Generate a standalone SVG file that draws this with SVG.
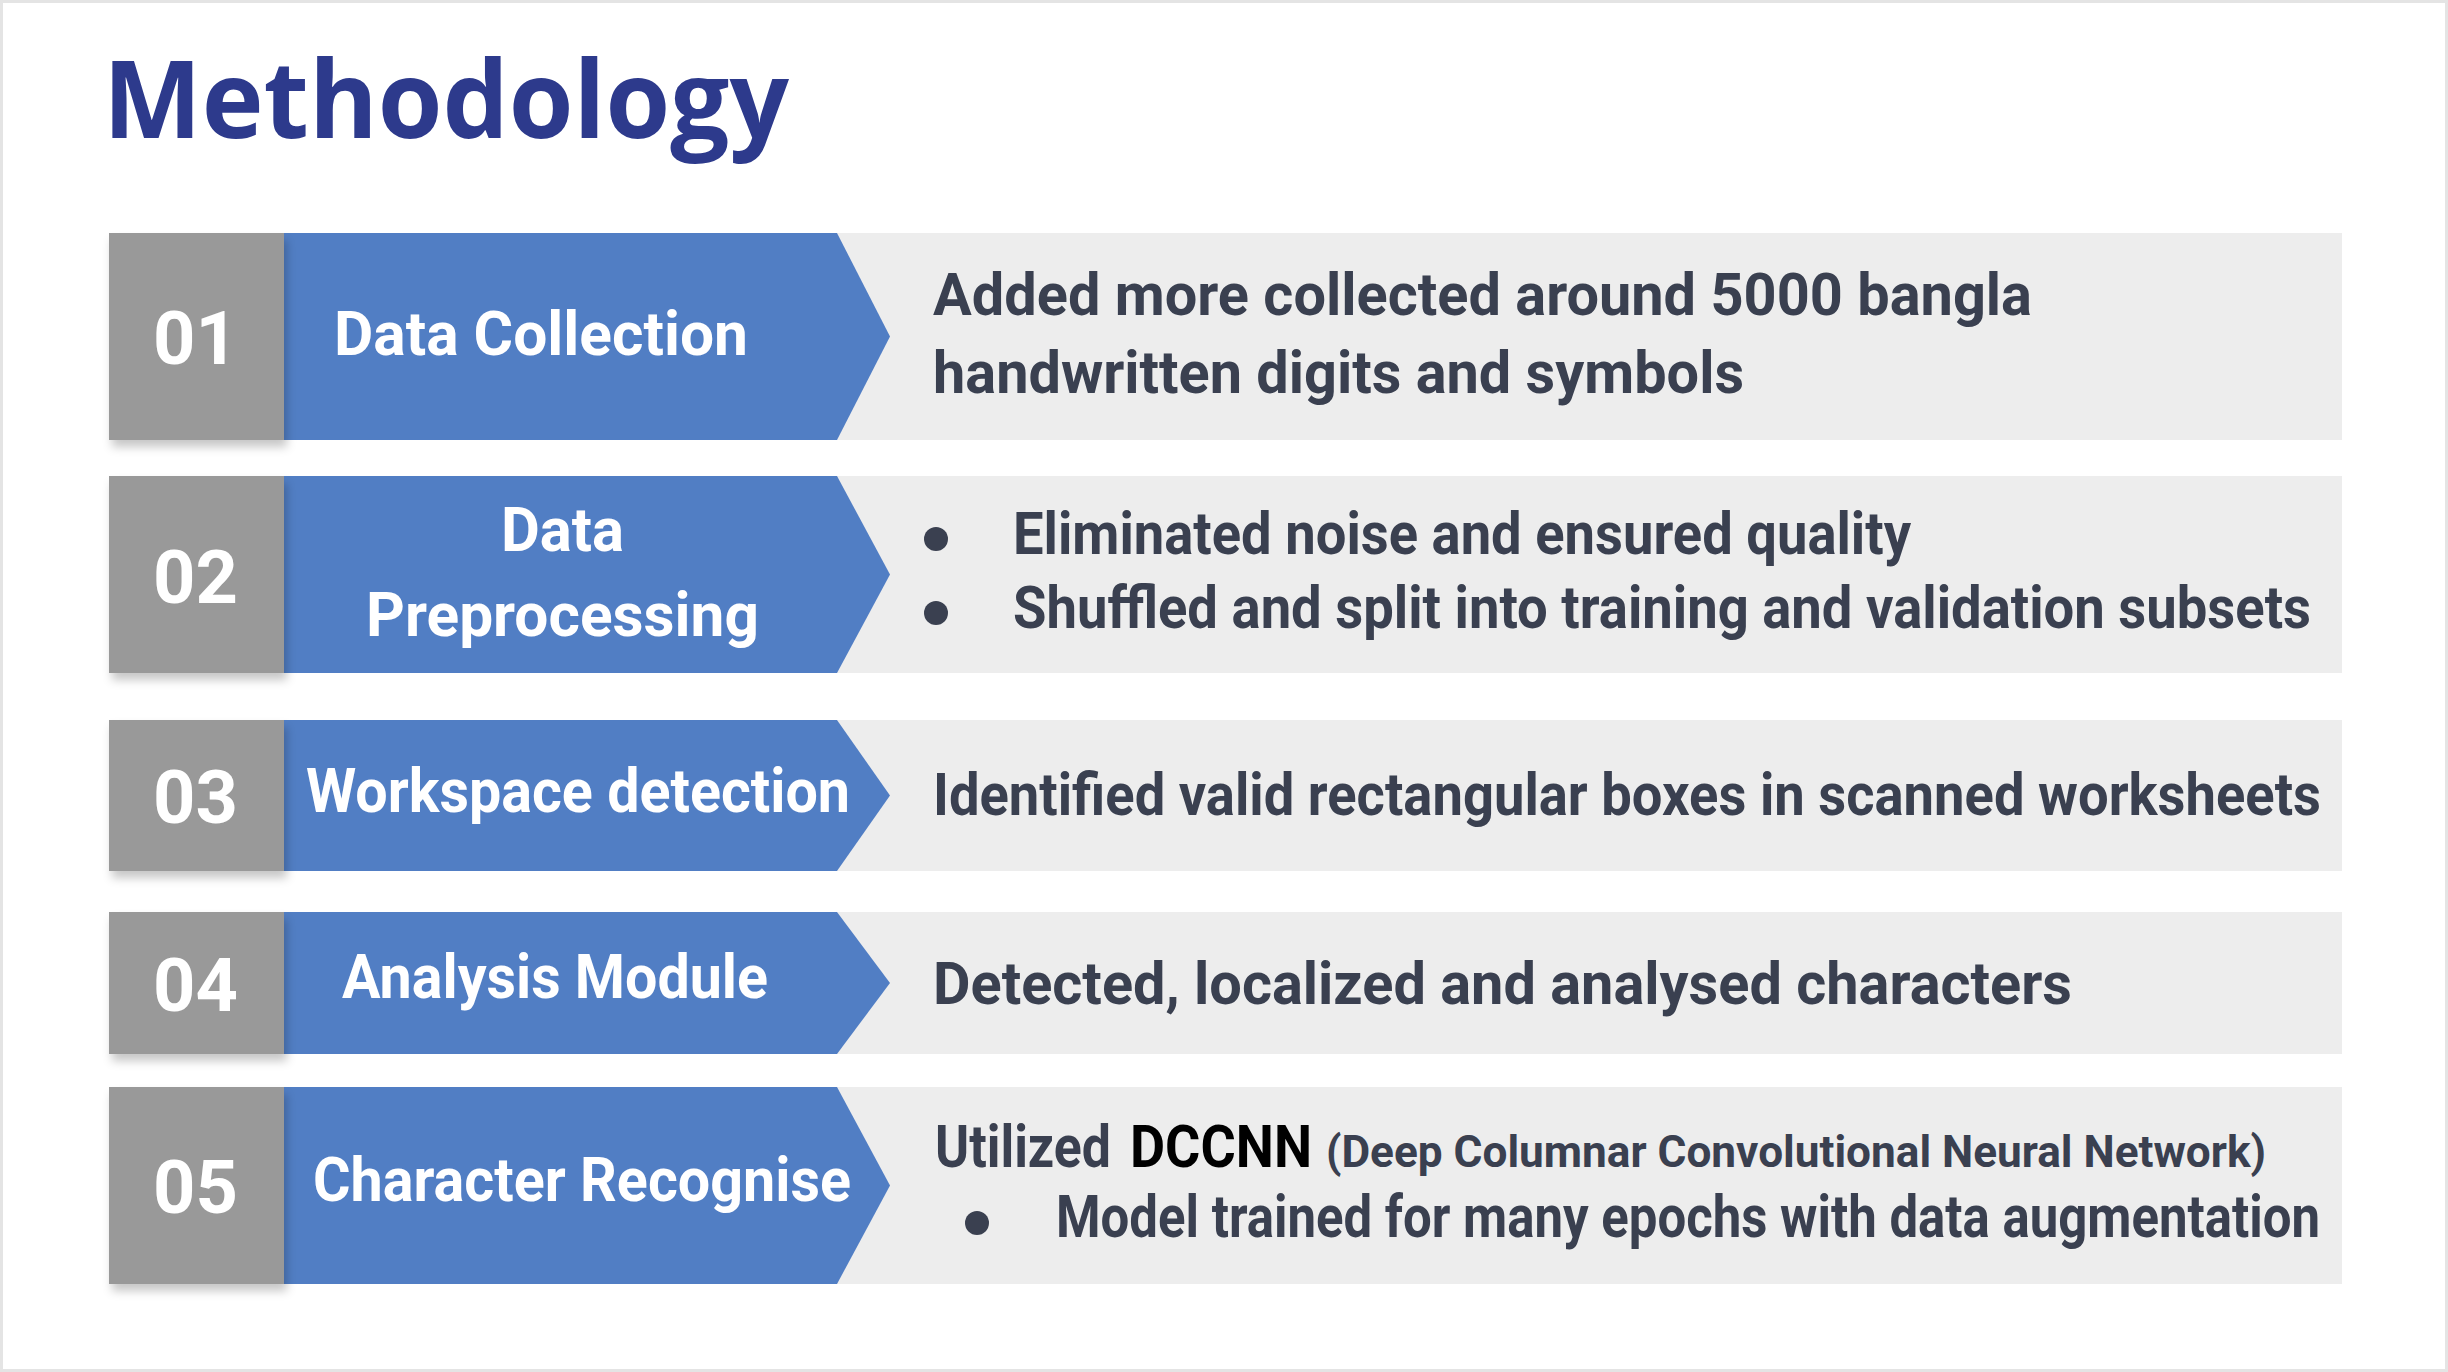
<svg xmlns="http://www.w3.org/2000/svg" width="2448" height="1372" viewBox="0 0 2448 1372">
  <style>
    .frame { fill: #ffffff; stroke: #e4e4e4; stroke-width: 3; }
    .title { font-family: "Open Sans", "Liberation Sans", sans-serif; font-weight: 700; font-size: 108px; fill: #2d3a8c; }
    .band { fill: #ededed; }
    .num-box { fill: #999999; filter: url(#soft); }
    .step { fill: #517ec4; }
    .num { font-family: Roboto, "Liberation Sans", sans-serif; font-weight: 700; font-size: 74px; fill: #ffffff; }
    .label { font-family: Roboto, "Liberation Sans", sans-serif; font-weight: 700; font-size: 61px; fill: #ffffff; }
    .desc { font-family: Roboto, "Liberation Sans", sans-serif; font-weight: 700; font-size: 59px; fill: #3a4050; }
    .small { font-size: 45px; }
    .strong { fill: #000000; }
    .dot { fill: #3a4050; }
  </style>
  <defs>
    <filter id="soft" x="-20%" y="-20%" width="140%" height="140%">
      <feDropShadow dx="3" dy="7" stdDeviation="5" flood-color="#000000" flood-opacity="0.22"/>
    </filter>
  </defs>

  <rect class="frame" x="1.5" y="1.5" width="2445" height="1369"/>

  <text class="title" x="103" y="138" textLength="686" lengthAdjust="spacingAndGlyphs">Methodology</text>

  <!-- Step 01 -->
  <g id="step-01">
    <rect class="band" x="800" y="233" width="1542" height="207"/>
    <polygon class="step" points="284,233 837,233 890,336.5 837,440 284,440"/>
    <rect class="num-box" x="109" y="233" width="175" height="207"/>
    <text class="num" x="153" y="364">01</text>
    <text class="label" x="334" y="355" textLength="414" lengthAdjust="spacingAndGlyphs">Data Collection</text>
    <text class="desc" x="933" y="315" textLength="1099" lengthAdjust="spacingAndGlyphs">Added more collected around 5000 bangla</text>
    <text class="desc" x="933" y="393" textLength="811" lengthAdjust="spacingAndGlyphs">handwritten digits and symbols</text>
  </g>

  <!-- Step 02 -->
  <g id="step-02">
    <rect class="band" x="800" y="476" width="1542" height="197"/>
    <polygon class="step" points="284,476 837,476 890,574.5 837,673 284,673"/>
    <rect class="num-box" x="109" y="476" width="175" height="197"/>
    <text class="num" x="153" y="603">02</text>
    <text class="label" x="501" y="551" textLength="123" lengthAdjust="spacingAndGlyphs">Data</text>
    <text class="label" x="366" y="636" textLength="393" lengthAdjust="spacingAndGlyphs">Preprocessing</text>
    <circle class="dot" cx="936" cy="539" r="12"/>
    <circle class="dot" cx="936" cy="613" r="12"/>
    <text class="desc" x="1013" y="554" textLength="898" lengthAdjust="spacingAndGlyphs">Eliminated noise and ensured quality</text>
    <text class="desc" x="1013" y="628" textLength="1298" lengthAdjust="spacingAndGlyphs">Shuffled and split into training and validation subsets</text>
  </g>

  <!-- Step 03 -->
  <g id="step-03">
    <rect class="band" x="800" y="720" width="1542" height="151"/>
    <polygon class="step" points="284,720 837,720 890,795.5 837,871 284,871"/>
    <rect class="num-box" x="109" y="720" width="175" height="151"/>
    <text class="num" x="153" y="823">03</text>
    <text class="label" x="306" y="812" textLength="544" lengthAdjust="spacingAndGlyphs">Workspace detection</text>
    <text class="desc" x="933" y="815" textLength="1388" lengthAdjust="spacingAndGlyphs">Identified valid rectangular boxes in scanned worksheets</text>
  </g>

  <!-- Step 04 -->
  <g id="step-04">
    <rect class="band" x="800" y="912" width="1542" height="142"/>
    <polygon class="step" points="284,912 837,912 890,983 837,1054 284,1054"/>
    <rect class="num-box" x="109" y="912" width="175" height="142"/>
    <text class="num" x="153" y="1011">04</text>
    <text class="label" x="342" y="998" textLength="426" lengthAdjust="spacingAndGlyphs">Analysis Module</text>
    <text class="desc" x="933" y="1004" textLength="1139" lengthAdjust="spacingAndGlyphs">Detected, localized and analysed characters</text>
  </g>

  <!-- Step 05 -->
  <g id="step-05">
    <rect class="band" x="800" y="1087" width="1542" height="197"/>
    <polygon class="step" points="284,1087 837,1087 890,1185.5 837,1284 284,1284"/>
    <rect class="num-box" x="109" y="1087" width="175" height="197"/>
    <text class="num" x="153" y="1213">05</text>
    <text class="label" x="313" y="1201" textLength="538" lengthAdjust="spacingAndGlyphs">Character Recognise</text>
    <text class="desc" x="935" y="1167" textLength="176" lengthAdjust="spacingAndGlyphs">Utilized</text>
    <text class="desc strong" x="1130" y="1167" textLength="182" lengthAdjust="spacingAndGlyphs">DCCNN</text>
    <text class="desc small" x="1326" y="1167" textLength="940" lengthAdjust="spacingAndGlyphs">(Deep Columnar Convolutional Neural Network)</text>
    <circle class="dot" cx="977" cy="1223" r="12"/>
    <text class="desc" x="1056" y="1237" textLength="1264" lengthAdjust="spacingAndGlyphs">Model trained for many epochs with data augmentation</text>
  </g>
</svg>
